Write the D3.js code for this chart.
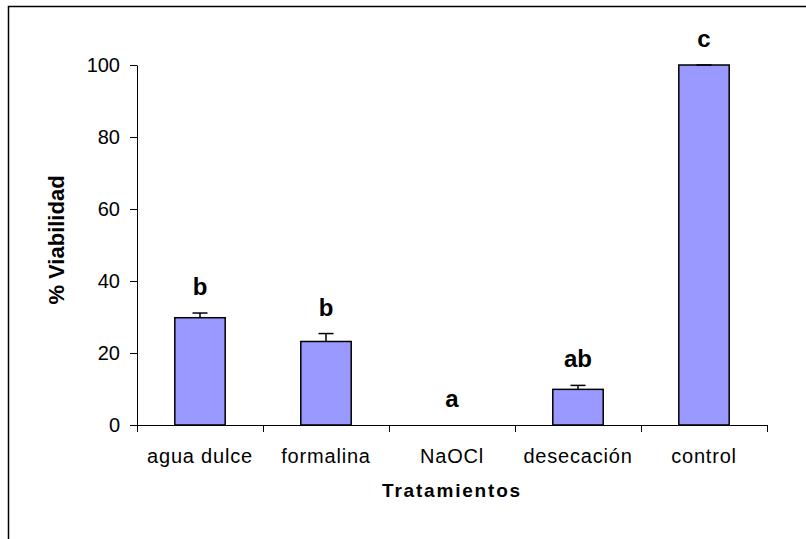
<!DOCTYPE html>
<html>
<head>
<meta charset="utf-8">
<script src="https://cdn.jsdelivr.net/npm/d3@7.9.0/dist/d3.min.js"></script>
<style>
    body { margin: 0; background: #fff; }
    svg { display: block; font-family: "Liberation Sans", Arial, sans-serif; }
</style>
</head>
<body>
<svg id="chart" width="806" height="539"></svg>
<script>
// Data
const categories = ["agua dulce", "formalina", "NaOCl", "desecación", "control"];
const viability = [29.8, 23.2, 0, 9.9, 100];
const errors = [1.3, 2.2, 0, 1.1, 0];
const groupLetters = ["b", "b", "a", "ab", "c"];
const yTicks = [0, 20, 40, 60, 80, 100];

const width = 806;
const height = 539;
const margin = { top: 65, right: 39, bottom: 114, left: 137 };
const plotW = width - margin.left - margin.right;
const plotH = height - margin.top - margin.bottom;

const svg = d3.select("#chart");

// Outer frame (clipped by the page on the right and bottom, like the original)
svg.append("rect")
    .attr("x", 8.5)
    .attr("y", 6.5)
    .attr("width", 820)
    .attr("height", 560)
    .attr("fill", "none")
    .attr("stroke", "#000")
    .attr("stroke-width", 1.5);

const g = svg.append("g")
    .attr("transform", `translate(${margin.left}, ${margin.top})`);

const x = d3.scaleBand().domain(categories).range([0, plotW]).padding(0);
const y = d3.scaleLinear().domain([0, 100]).range([plotH, 0]);

const barW = x.bandwidth() * 0.4;

// Y axis
const yAxis = g.append("g")
    .call(d3.axisLeft(y).tickValues(yTicks).tickSize(7).tickPadding(10).tickSizeOuter(0));
yAxis.select(".domain").attr("stroke", "#000");
yAxis.selectAll(".tick line").attr("stroke", "#000");
yAxis.selectAll("text")
    .attr("font-size", 20)
    .attr("fill", "#000")
    .attr("font-family", "Liberation Sans, Arial, sans-serif");

// X axis: line with ticks on category boundaries, labels at centers
const bounds = categories.map(c => x(c)).concat([plotW]);
g.append("line")
    .attr("x1", 0).attr("x2", plotW)
    .attr("y1", plotH + 0.5).attr("y2", plotH + 0.5)
    .attr("stroke", "#000");
g.selectAll(".xtick")
    .data(bounds)
    .enter()
    .append("line")
    .attr("class", "xtick")
    .attr("x1", d => Math.round(d) + 0.5)
    .attr("x2", d => Math.round(d) + 0.5)
    .attr("y1", plotH)
    .attr("y2", plotH + 7)
    .attr("stroke", "#000");
g.selectAll(".xlabel")
    .data(categories)
    .enter()
    .append("text")
    .attr("class", "xlabel")
    .attr("x", d => x(d) + x.bandwidth() / 2)
    .attr("y", plotH + 38)
    .attr("text-anchor", "middle")
    .attr("font-size", 20)
    .attr("letter-spacing", "0.8px")
    .text(d => d);

// Bars
const rows = categories.map((c, i) => ({ c, v: viability[i], e: errors[i], l: groupLetters[i] }));

g.selectAll(".bar")
    .data(rows.filter(d => d.v > 0))
    .enter()
    .append("rect")
    .attr("class", "bar")
    .attr("x", d => x(d.c) + (x.bandwidth() - barW) / 2)
    .attr("y", d => y(d.v))
    .attr("width", barW)
    .attr("height", d => y(0) - y(d.v))
    .attr("fill", "#9999FF")
    .attr("stroke", "#000")
    .attr("stroke-width", 1.5);

// Error bars (upper only)
const capW = 15;
const err = g.selectAll(".err")
    .data(rows.filter(d => d.v > 0))
    .enter()
    .append("g")
    .attr("class", "err")
    .attr("transform", d => `translate(${x(d.c) + x.bandwidth() / 2}, 0)`);
err.append("line")
    .attr("x1", 0).attr("x2", 0)
    .attr("y1", d => y(d.v))
    .attr("y2", d => y(d.v + d.e))
    .attr("stroke", "#000")
    .attr("stroke-width", 1.5);
err.append("line")
    .attr("x1", -capW / 2).attr("x2", capW / 2)
    .attr("y1", d => y(d.v + d.e))
    .attr("y2", d => y(d.v + d.e))
    .attr("stroke", "#000")
    .attr("stroke-width", 1.5);

// Significance letters
g.selectAll(".letter")
    .data(rows)
    .enter()
    .append("text")
    .attr("class", "letter")
    .attr("x", d => x(d.c) + x.bandwidth() / 2)
    .attr("y", d => y(d.v + d.e) - 18)
    .attr("text-anchor", "middle")
    .attr("font-size", 24)
    .attr("font-weight", "bold")
    .text(d => d.l);

// Axis titles
g.append("text")
    .attr("x", plotW / 2)
    .attr("y", plotH + 72)
    .attr("text-anchor", "middle")
    .attr("font-size", 19)
    .attr("font-weight", "bold")
    .attr("letter-spacing", "1.8px")
    .text("Tratamientos");

g.append("text")
    .attr("transform", `translate(${64 - margin.left}, ${240 - margin.top}) rotate(-90)`)
    .attr("text-anchor", "middle")
    .attr("font-size", 22)
    .attr("font-weight", "bold")
    .text("% Viabilidad");
</script>
</body>
</html>
